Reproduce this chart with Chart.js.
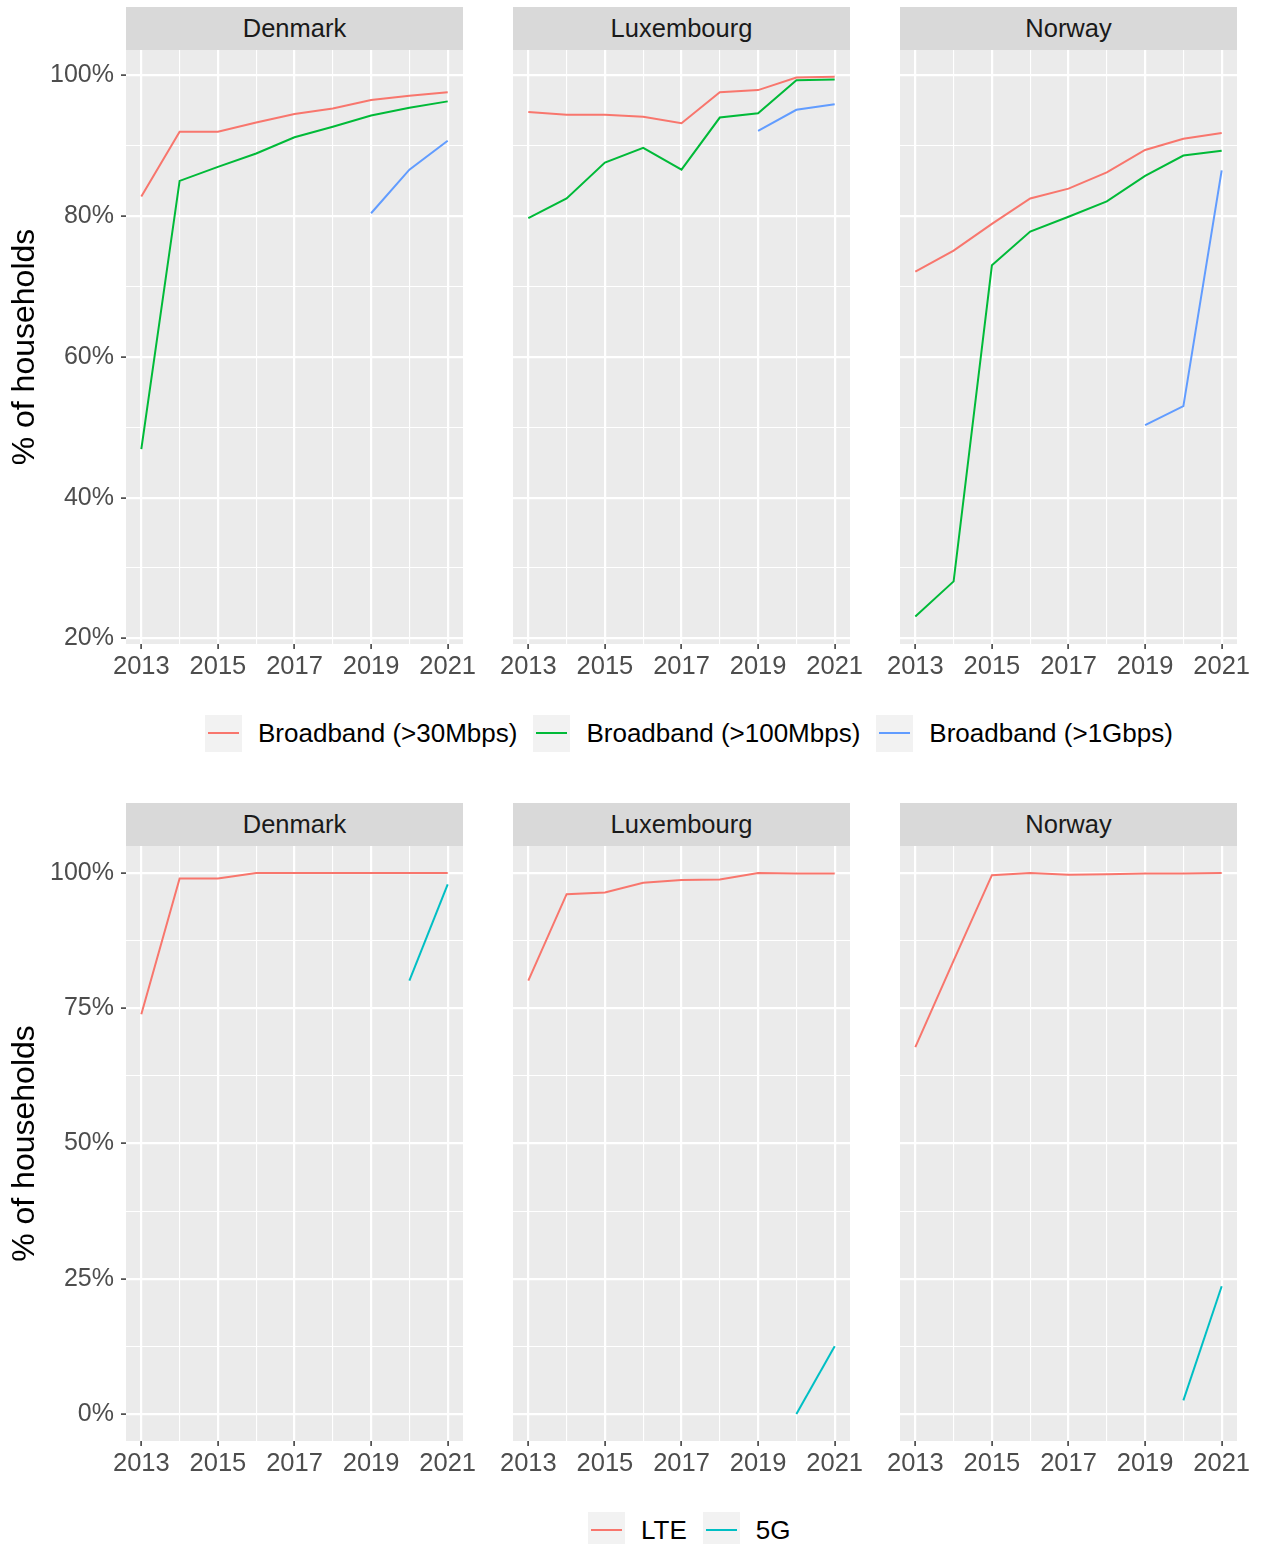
<!DOCTYPE html>
<html>
<head>
<meta charset="utf-8">
<script src="https://cdn.jsdelivr.net/npm/chart.js@4"></script>
<style>
  body { margin: 0; background: #fff; width: 1264px; height: 1544px; position: relative; overflow: hidden;
         font-family: "Liberation Sans", Arial, sans-serif; }
  canvas { position: absolute; }
  .strip { position: absolute; background: #d9d9d9; color: #1a1a1a; font-size: 25.5px;
           display: flex; align-items: center; justify-content: center; }
  .legend { position: absolute; display: flex; align-items: center; height: 37px; }
  .legend .item { display: flex; align-items: center; margin-right: 16px; }
  .legend .key { width: 37px; height: 37px; background: #f2f2f2; position: relative; margin-right: 16px; }
  .legend .key span { position: absolute; left: 3px; right: 3px; top: 17px; height: 2px; }
  .legend .txt { font-size: 26px; color: #000; }
</style>
</head>
<body>
<script>
const years = [2013, 2014, 2015, 2016, 2017, 2018, 2019, 2020, 2021];
const countries = ["Denmark", "Luxembourg", "Norway"];

// fixed broadband coverage (% of households)
const bbNames = ["Broadband (>30Mbps)", "Broadband (>100Mbps)", "Broadband (>1Gbps)"];
const bbColors = ["#F8766D", "#00BA38", "#619CFF"];
const dk30  = [82.8, 92.0, 92.0, 93.3, 94.5, 95.3, 96.5, 97.1, 97.6];
const dk100 = [46.9, 85.0, 87.0, 88.9, 91.2, 92.7, 94.3, 95.4, 96.3];
const dk1g  = [null, null, null, null, null, null, 80.4, 86.6, 90.7];
const lu30  = [94.8, 94.4, 94.4, 94.1, 93.2, 97.6, 97.9, 99.7, 99.8];
const lu100 = [79.7, 82.5, 87.6, 89.7, 86.6, 94.0, 94.6, 99.3, 99.4];
const lu1g  = [null, null, null, null, null, null, 92.1, 95.1, 95.9];
const no30  = [72.1, 75.1, 78.9, 82.5, 83.9, 86.2, 89.4, 91.0, 91.8];
const no100 = [23.1, 28.1, 73.0, 77.8, 79.9, 82.1, 85.7, 88.6, 89.3];
const no1g  = [null, null, null, null, null, null, 50.3, 53.0, 86.5];

// mobile coverage
const mobNames = ["LTE", "5G"];
const mobColors = ["#F8766D", "#00BFC4"];
const dkLte = [73.9, 99.0, 99.0, 100, 100, 100, 100, 100, 100];
const dk5g  = [null, null, null, null, null, null, null, 80.1, 97.9];
const luLte = [80.1, 96.1, 96.4, 98.2, 98.7, 98.8, 100, 99.9, 99.9];
const lu5g  = [null, null, null, null, null, null, null, 0.0, 12.5];
const noLte = [67.8, 83.8, 99.6, 100, 99.7, 99.8, 99.9, 99.9, 100];
const no5g  = [null, null, null, null, null, null, null, 2.5, 23.6];

const bbData = [[dk30, dk100, dk1g], [lu30, lu100, lu1g], [no30, no100, no1g]];
const mobData = [[dkLte, dk5g], [luLte, lu5g], [noLte, no5g]];

const FONT = '"Liberation Sans", Arial, sans-serif';
const plotLefts = [126, 513, 900];
const plotW = 337;
const pad = 25;
const xAxisH = 45;

const rows = [
  { stripTop: 7, plotTop: 50, plotH: 594, yMin: 19.2, yMax: 103.6, step: 10, major: 20,
    data: bbData, names: bbNames, colors: bbColors },
  { stripTop: 803, plotTop: 846, plotH: 595, yMin: -5, yMax: 105, step: 12.5, major: 25,
    data: mobData, names: mobNames, colors: mobColors }
];

const panelBg = {
  id: "panelBg",
  beforeDraw(chart) {
    const a = chart.chartArea;
    chart.ctx.save();
    chart.ctx.fillStyle = "#ebebeb";
    chart.ctx.fillRect(a.left, a.top, a.right - a.left, a.bottom - a.top);
    chart.ctx.restore();
  }
};

function isMajor(v, m) {
  return Math.abs(v / m - Math.round(v / m)) < 1e-6;
}

function makePanel(row, col) {
  const first = col === 0;
  const axisW = first ? plotLefts[0] : 0;
  const left = first ? 0 : plotLefts[col] - pad;
  const padLeft = first ? 0 : pad;

  const strip = document.createElement("div");
  strip.className = "strip";
  strip.style.left = plotLefts[col] + "px";
  strip.style.top = row.stripTop + "px";
  strip.style.width = plotW + "px";
  strip.style.height = (row.plotTop - row.stripTop) + "px";
  strip.textContent = countries[col];
  document.body.appendChild(strip);

  const cv = document.createElement("canvas");
  cv.width = axisW + padLeft + plotW + pad;
  cv.height = row.plotH + xAxisH;
  cv.style.left = left + "px";
  cv.style.top = row.plotTop + "px";
  document.body.appendChild(cv);

  const datasets = row.data[col].map((vals, i) => ({
    label: row.names[i],
    data: years.map((yr, j) => ({ x: yr, y: vals[j] })).filter(p => p.y !== null),
    borderColor: row.colors[i],
    borderWidth: 2,
    pointRadius: 0,
    tension: 0,
    fill: false
  }));

  new Chart(cv.getContext("2d"), {
    type: "line",
    data: { datasets },
    plugins: [panelBg],
    options: {
      responsive: false,
      animation: false,
      layout: { padding: { left: padLeft, right: pad, top: 0, bottom: 0 } },
      plugins: { legend: { display: false }, tooltip: { enabled: false } },
      scales: {
        x: {
          type: "linear",
          min: 2012.6,
          max: 2021.4,
          border: { display: false },
          afterFit(s) { s.height = xAxisH; },
          ticks: {
            stepSize: 1,
            includeBounds: false,
            autoSkip: false,
            maxRotation: 0,
            padding: 3,
            color: "#4d4d4d",
            font: { family: FONT, size: 25.5 },
            callback: v => (v % 2 === 1 ? String(v) : "")
          },
          grid: {
            color: "#ffffff",
            lineWidth: c => (c.tick && c.tick.value % 2 === 1 ? 2.2 : 1.1),
            tickLength: 5,
            tickWidth: 1.5,
            tickColor: c => (c.tick && c.tick.value % 2 === 1 ? "#333333" : "rgba(0,0,0,0)")
          }
        },
        y: {
          type: "linear",
          min: row.yMin,
          max: row.yMax,
          border: { display: false },
          afterFit(s) {
            s.width = axisW;
            s.paddingTop = 0;
            s.paddingBottom = 0;
          },
          title: {
            display: first,
            text: "% of households",
            color: "#000",
            font: { family: FONT, size: 32 },
            padding: { top: 6, bottom: 0 }
          },
          ticks: {
            display: first,
            stepSize: row.step,
            includeBounds: false,
            autoSkip: false,
            padding: 7,
            color: "#4d4d4d",
            font: { family: FONT, size: 25 },
            callback: v => (isMajor(v, row.major) ? v + "%" : "")
          },
          grid: {
            color: "#ffffff",
            lineWidth: c => (c.tick && isMajor(c.tick.value, row.major) ? 2.2 : 1.1),
            drawTicks: first,
            tickLength: 5,
            tickWidth: 1.5,
            tickColor: c => (c.tick && isMajor(c.tick.value, row.major) ? "#333333" : "rgba(0,0,0,0)")
          }
        }
      }
    }
  });
}

function makeLegend(names, colors, left, top) {
  const lg = document.createElement("div");
  lg.className = "legend";
  lg.style.left = left + "px";
  lg.style.top = top + "px";
  names.forEach((n, i) => {
    const it = document.createElement("div");
    it.className = "item";
    it.innerHTML = '<div class="key"><span style="background:' + colors[i] + '"></span></div>' +
                   '<div class="txt">' + n.replace(">", "&gt;") + '</div>';
    lg.appendChild(it);
  });
  document.body.appendChild(lg);
}

rows.forEach(r => countries.forEach((c, i) => makePanel(r, i)));
makeLegend(bbNames, bbColors, 205, 715);
makeLegend(mobNames, mobColors, 588, 1512);
</script>
</body>
</html>
